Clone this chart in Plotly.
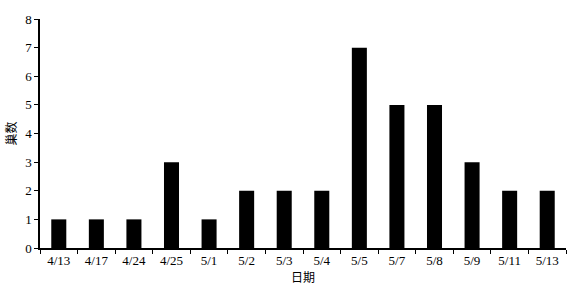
import plotly.graph_objects as go

dates = ["4/13", "4/17", "4/24", "4/25", "5/1", "5/2", "5/3", "5/4", "5/5", "5/7", "5/8", "5/9", "5/11", "5/13"]
nests = [1, 1, 1, 3, 1, 2, 2, 2, 7, 5, 5, 3, 2, 2]
y_ticks = [0, 1, 2, 3, 4, 5, 6, 7, 8]

fig = go.Figure(go.Bar(x=dates, y=nests, marker=dict(color="black", line=dict(width=0))))

fig.update_layout(
    width=567, height=285,
    margin=dict(l=40, r=1, t=19, b=37),
    plot_bgcolor="white", paper_bgcolor="white",
    bargap=0.6,
    showlegend=False,
    font=dict(family="Liberation Serif, Noto Sans CJK SC", size=12, color="black"),
)
fig.update_xaxes(
    type="category", tickson="boundaries", ticks="outside", ticklen=4, tickwidth=1.2,
    tickcolor="black", showline=True, linecolor="black", linewidth=1.5,
    showgrid=False, zeroline=False,
    title=dict(text="日期", font=dict(family="Noto Sans CJK SC", size=12, color="black"), standoff=2),
    tickfont=dict(family="Liberation Serif", size=13),
)
fig.update_yaxes(
    range=[0, 8], tickvals=y_ticks, ticks="outside", ticklen=4, tickwidth=1.2,
    tickcolor="black", showline=True, linecolor="black", linewidth=1.5,
    showgrid=False, zeroline=False,
    title=dict(text="巢数", font=dict(family="Noto Sans CJK SC", size=12, color="black"), standoff=6),
    tickfont=dict(family="Liberation Serif", size=13),
)
fig.write_html(
    "out.html",
    config={"displayModeBar": False},
    post_script="document.body.style.margin='0';document.body.style.overflow='hidden';",
)
